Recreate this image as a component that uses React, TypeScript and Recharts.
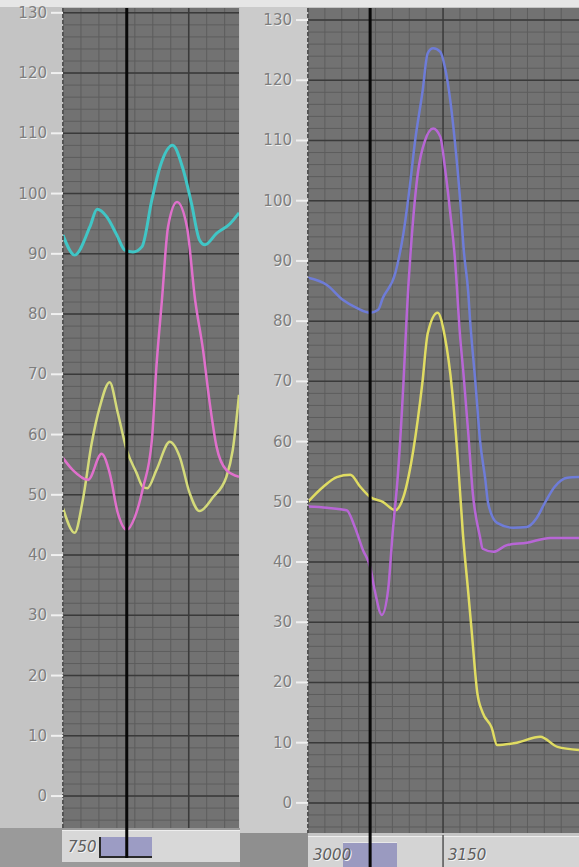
import React from 'react';
import { LineChart, Line, XAxis, YAxis, CartesianGrid, ReferenceLine } from 'recharts';

// y scale shared by both panels
const yTicks = [0, 10, 20, 30, 40, 50, 60, 70, 80, 90, 100, 110, 120, 130];
const yMinor = [-4, -2, 0, 2, 4, 6, 8, 10, 12, 14, 16, 18, 20, 22, 24, 26, 28, 30, 32, 34, 36, 38, 40, 42, 44, 46, 48, 50, 52, 54, 56, 58, 60, 62, 64, 66, 68, 70, 72, 74, 76, 78, 80, 82, 84, 86, 88, 90, 92, 94, 96, 98, 100, 102, 104, 106, 108, 110, 112, 114, 116, 118, 120, 122, 124, 126, 128, 130];

// left panel
const leftXMinor = [770, 790, 810, 830, 850, 870, 890, 910, 930];
const leftXMajor = [890];
const leftCursor = 821;
const leftXTicks = [750];
const leftXLabels = ['750'];

const leftCyanX = [750, 763, 780, 788, 799, 810, 819, 828, 838, 849, 858, 872, 883, 893, 902, 908, 921, 936, 946];
const leftCyanV = [93.1, 89.8, 94.5, 97.4, 96.1, 93.1, 90.6, 90.3, 91.2, 99, 104.4, 108, 104.4, 98.4, 92.3, 91.5, 93.4, 95, 96.8];

const leftPinkX = [750, 761, 778, 793, 802, 811, 821, 830, 839, 849, 854, 860, 867, 877, 888, 897, 906, 913, 921, 932, 946];
const leftPinkV = [56.1, 54.1, 52.5, 56.8, 53.6, 47, 44.2, 46.3, 51.1, 59.1, 71.2, 82, 94.5, 98.6, 94.5, 82.5, 74, 65.7, 58, 54.1, 53];

const leftYellowX = [750, 763, 772, 782, 791, 802, 811, 821, 832, 839, 844, 854, 869, 880, 891, 902, 917, 932, 939, 946];
const leftYellowV = [47.8, 43.7, 49.1, 58.6, 64.6, 68.7, 63.6, 57.4, 53.6, 51.3, 51.1, 54.1, 58.8, 56.3, 50.3, 47.3, 49.6, 53, 57.4, 66.6];

// right panel
const rightXMinor = [3018.75, 3037.5, 3056.25, 3075, 3093.75, 3112.5, 3131.25, 3168.75, 3187.5, 3206.25, 3225, 3243.75, 3262.5, 3281.25];
const rightXMajor = [3150];
const rightCursor = 3069;
const rightXTicks = [3000, 3150];
const rightXLabels = ['3000', '3150'];

const rightBlueX = [3000, 3021, 3039, 3054, 3069, 3078, 3083, 3097, 3106, 3113, 3119, 3127, 3133, 3139, 3147, 3152, 3158, 3163, 3169, 3173, 3178, 3180, 3186, 3191, 3197, 3200, 3210, 3228, 3243, 3254, 3263, 3274, 3288, 3301];
const rightBlueV = [87.2, 86, 83.5, 82.2, 81.4, 81.9, 83.8, 88, 94.6, 102.3, 110, 117.9, 124.5, 125.3, 124.7, 122.2, 116.7, 110, 100.1, 91.8, 84.7, 80.2, 69.7, 60.3, 53.6, 49.8, 46.5, 45.7, 45.8, 47.3, 49.8, 52.5, 54, 54.1];

const rightPurpleX = [3000, 3021, 3043, 3052, 3061, 3069, 3074, 3082, 3089, 3094, 3100, 3106, 3110, 3117, 3122, 3130, 3139, 3147, 3152, 3158, 3163, 3169, 3173, 3178, 3183, 3191, 3194, 3206, 3221, 3243, 3269, 3301];
const rightPurpleV = [49.2, 49, 48.6, 45.8, 42, 39.2, 35.4, 31.2, 35.4, 44.8, 54.8, 69.7, 82, 97.3, 104.6, 110, 112, 110.6, 105.6, 98, 90.7, 77.4, 70.7, 61.4, 51.5, 44.2, 42.2, 41.7, 42.8, 43.2, 44, 44];

const rightYellowX = [3000, 3017, 3032, 3047, 3058, 3069, 3083, 3097, 3106, 3117, 3127, 3133, 3144, 3152, 3160, 3167, 3172, 3178, 3182, 3188, 3194, 3204, 3210, 3232, 3258, 3277, 3301];
const rightYellowV = [50, 52.5, 54.1, 54.5, 52.5, 50.8, 50, 48.6, 50.8, 58.6, 69.7, 78, 81.4, 77.4, 68.6, 55.8, 44.8, 34.9, 28.2, 18.3, 15, 12.5, 9.6, 10, 11, 9.3, 8.8];

const zip = (xs: number[], vs: number[]) => xs.map((x, i) => ({ x, v: vs[i] }));

const FONT = '"DejaVu Sans", sans-serif';

const EmbossTick = (props: any) => {
  const { x, y, payload } = props;
  return (
    <g>
      <text x={x + 1} y={y + 1} textAnchor="end" dominantBaseline="central" fontFamily={FONT} fontSize={15} fill="#f0f0f0">
        {payload.value}
      </text>
      <text x={x} y={y} textAnchor="end" dominantBaseline="central" fontFamily={FONT} fontSize={15} fill="#7e7e7e">
        {payload.value}
      </text>
    </g>
  );
};

const makeStripTick = (ticks: number[], labels: string[], dy: number, sepH: number) => (props: any) => {
  const { x, y, payload, index } = props;
  const i = ticks.indexOf(payload.value);
  const label = i >= 0 ? labels[i] : '';
  return (
    <g>
      {index > 0 && <line x1={x} x2={x} y1={y + 2} y2={y + 2 + sepH} stroke="#555" strokeWidth={1.5} />}
      <text x={x + 6} y={y + dy + 1} dominantBaseline="central" fontFamily={FONT} fontStyle="italic" fontSize={15} fill="#f4f4f4">
        {label}
      </text>
      <text x={x + 5} y={y + dy} dominantBaseline="central" fontFamily={FONT} fontStyle="italic" fontSize={15} fill="#5e5e5e">
        {label}
      </text>
    </g>
  );
};

const cursorShape = (ext: number) => (p: any) => {
  const top = Math.min(p.y1, p.y2);
  const bottom = Math.max(p.y1, p.y2);
  return <line x1={p.x1} x2={p.x2} y1={top} y2={bottom + ext} stroke="#080808" strokeWidth={3} />;
};

interface PanelProps {
  width: number;
  height: number;
  axisWidth: number;
  marginLeft: number;
  marginRight: number;
  xAxisHeight: number;
  xDomain: [number, number];
  yDomain: [number, number];
  xMinor: number[];
  xMajor: number[];
  cursor: number;
  cursorExt: number;
  xTicks: number[];
  xLabels: string[];
  labelDy: number;
  series: { data: { x: number; v: number }[]; color: string; width: number }[];
}

function Panel(p: PanelProps) {
  return (
    <LineChart width={p.width} height={p.height} margin={{ top: 8, right: p.marginRight, bottom: 0, left: p.marginLeft }}>
      <CartesianGrid
        fill="#727272"
        stroke="#5d5d5d"
        strokeWidth={1}
        horizontalValues={yMinor}
        verticalValues={p.xMinor}
      />
      <XAxis
        type="number"
        dataKey="x"
        domain={p.xDomain}
        allowDataOverflow
        ticks={p.xTicks}
        interval={0}
        height={p.xAxisHeight}
        axisLine={false}
        tickLine={false}
        tickSize={0}
        tickMargin={0}
        tick={makeStripTick(p.xTicks, p.xLabels, p.labelDy, p.xAxisHeight)}
      />
      <YAxis
        type="number"
        domain={p.yDomain}
        allowDataOverflow
        ticks={yTicks}
        interval={0}
        width={p.axisWidth}
        tickSize={12}
        tickMargin={4}
        tickLine={{ stroke: '#f0f0f0', strokeWidth: 2 }}
        axisLine={{ stroke: '#555', strokeWidth: 2, strokeDasharray: '4 2' }}
        tick={<EmbossTick />}
      />
      {yTicks.map((t) => (
        <ReferenceLine key={'h' + t} y={t} stroke="#3a3a3a" strokeWidth={1.5} />
      ))}
      {p.xMajor.map((t) => (
        <ReferenceLine key={'v' + t} x={t} stroke="#3a3a3a" strokeWidth={1.5} />
      ))}
      {p.series.map((s, i) => (
        <Line
          key={i}
          data={s.data}
          dataKey="v"
          type="monotone"
          stroke={s.color}
          strokeWidth={s.width}
          dot={false}
          isAnimationActive={false}
        />
      ))}
      <ReferenceLine x={p.cursor} stroke="#080808" strokeWidth={3} shape={cursorShape(p.cursorExt)} />
    </LineChart>
  );
}

export default function App() {
  const abs = (l: number, t: number, w: number, h: number, bg: string, extra: any = {}) => (
    <div style={{ position: 'absolute', left: l, top: t, width: w, height: h, background: bg, ...extra }} />
  );
  return (
    <div style={{ position: 'absolute', left: 0, top: 0, width: 579, height: 867, background: '#c4c4c4', overflow: 'hidden', fontFamily: FONT }}>
      {abs(0, 0, 579, 7, '#e6e6e6')}
      {abs(240, 7, 68, 828, '#cbcbcb')}
      {abs(0, 828, 240, 39, '#9a9a9a')}
      {abs(240, 833, 68, 34, '#8f8f8f')}
      {abs(62, 830, 178, 31, '#d8d8d8', { borderTop: '1px solid #eeeeee' })}
      {abs(308, 836, 271, 31, '#d4d4d4', { borderTop: '1px solid #eeeeee' })}
      {abs(99, 837, 53, 21, '#9c9cc4', { borderLeft: '2px solid #2a2a2a', borderBottom: '2px solid #2a2a2a', boxSizing: 'border-box' })}
      {abs(343, 842, 54, 25, '#9a9ac0', { borderTop: '1px solid #e8e8e8', boxSizing: 'border-box' })}

      <div style={{ position: 'absolute', left: 0, top: 0 }}>
        <Panel
          width={240}
          height={867}
          axisWidth={53}
          marginLeft={10}
          marginRight={1}
          xAxisHeight={39}
          xDomain={[750, 946]}
          yDomain={[-5.3, 130.8]}
          xMinor={leftXMinor}
          xMajor={leftXMajor}
          cursor={leftCursor}
          cursorExt={30}
          xTicks={leftXTicks}
          xLabels={leftXLabels}
          labelDy={19}
          series={[
            { data: zip(leftYellowX, leftYellowV), color: '#d4da7a', width: 2.5 },
            { data: zip(leftPinkX, leftPinkV), color: '#e070cc', width: 2.5 },
            { data: zip(leftCyanX, leftCyanV), color: '#40c6c6', width: 3 },
          ]}
        />
      </div>
      <div style={{ position: 'absolute', left: 240, top: 0 }}>
        <Panel
          width={339}
          height={867}
          axisWidth={68}
          marginLeft={0}
          marginRight={0}
          xAxisHeight={34}
          xDomain={[3000, 3301]}
          yDomain={[-5, 132]}
          xMinor={rightXMinor}
          xMajor={rightXMajor}
          cursor={rightCursor}
          cursorExt={34}
          xTicks={rightXTicks}
          xLabels={rightXLabels}
          labelDy={22}
          series={[
            { data: zip(rightYellowX, rightYellowV), color: '#e0dc62', width: 2.5 },
            { data: zip(rightBlueX, rightBlueV), color: '#6e7cd8', width: 2.5 },
            { data: zip(rightPurpleX, rightPurpleV), color: '#b866d6', width: 2.5 },
          ]}
        />
      </div>
    </div>
  );
}
